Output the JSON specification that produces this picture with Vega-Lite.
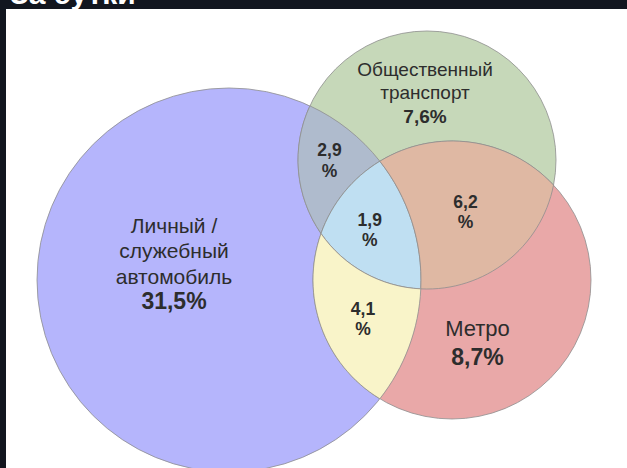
{
  "$schema": "https://vega.github.io/schema/vega-lite/v6.json",
  "width": 621,
  "height": 459,
  "autosize": {"type": "none"},
  "padding": {"left": 6, "top": 9, "right": 0, "bottom": 0},
  "background": "#12161f",
  "config": {
    "view": {"fill": "#ffffff", "stroke": null},
    "locale": {"number": {"decimal": ",", "thousands": " ", "grouping": [3], "currency": ["", "%"]}}
  },
  "datasets": {
    "sets": [
      {"key": "car", "set": "Личный / служебный автомобиль", "name": "Личный /\nслужебный\nавтомобиль", "pct": 31.5, "cx": 48.584, "cy": 59.041, "r": 41.83, "lx": 36.6, "ly": 48.8, "vy": 65.36},
      {"key": "pt", "set": "Общественный транспорт", "name": "Общественный\nтранспорт", "pct": 7.6, "cx": 91.721, "cy": 32.898, "r": 28.105, "lx": 91.29, "ly": 14.6, "vy": 24.84},
      {"key": "metro", "set": "Метро", "name": "Метро", "pct": 8.7, "cx": 97.168, "cy": 59.041, "r": 30.283, "lx": 102.72, "ly": 71.24, "vy": 77.56}
    ],
    "regions": [
      {"region": "car+pt", "pct": 2.9, "lx": 70.479, "ly": 33.224},
      {"region": "car+pt+metro", "pct": 1.9, "lx": 79.237, "ly": 48.366},
      {"region": "pt+metro", "pct": 6.2, "lx": 100.109, "ly": 44.444},
      {"region": "car+metro", "pct": 4.1, "lx": 77.778, "ly": 67.756}
    ],
    "heading": [
      {"caption": "За сутки"}
    ]
  },
  "resolve": {"scale": {"fill": "independent", "shape": "independent"}},
  "layer": [
    {
      "data": {"name": "sets"},
      "mark": {"type": "point", "filled": true, "shape": "circle", "opacity": 1, "stroke": "#8f8f8f", "strokeWidth": 1, "strokeOpacity": 0.8},
      "encoding": {
        "x": {"field": "cx", "type": "quantitative", "scale": {"domain": [0, 135.2941], "nice": false, "zero": false}, "axis": null},
        "y": {"field": "cy", "type": "quantitative", "scale": {"domain": [0, 100], "nice": false, "zero": false, "reverse": true}, "axis": null},
        "size": {"field": "r", "type": "quantitative", "scale": {"type": "pow", "exponent": 2, "domain": [0, 100], "range": [0, 842724]}, "legend": null},
        "fill": {"field": "key", "type": "nominal", "scale": {"domain": ["car", "pt", "metro"], "range": ["#b5b5fc", "#c6d8b9", "#e9a8a8"]}, "legend": null}
      }
    },
    {
      "data": {"name": "regions"},
      "mark": {"type": "point", "filled": true, "opacity": 1, "size": 84.2724, "stroke": "#8f8f8f", "strokeWidth": 1, "strokeOpacity": 0.8},
      "encoding": {
        "x": {"field": "lx", "type": "quantitative", "scale": {"domain": [0, 135.2941], "nice": false, "zero": false}, "axis": null},
        "y": {"field": "ly", "type": "quantitative", "scale": {"domain": [0, 100], "nice": false, "zero": false, "reverse": true}, "axis": null},
        "shape": {"field": "region", "type": "nominal", "scale": {"domain": ["car+pt", "car+pt+metro", "pt+metro", "car+metro"], "range": [
          "M-4.272,-12.12A41.83,41.83,0,0,1,10.965,-0.065A30.283,30.283,0,0,0,-1.852,15.686A28.105,28.105,0,0,1,-4.272,-12.12Z",
          "M2.207,-15.207A30.283,30.283,0,0,0,-10.61,0.545A28.105,28.105,0,0,0,11.131,12.608A41.83,41.83,0,0,0,2.207,-15.207Z",
          "M-18.664,-11.285A30.283,30.283,0,0,1,19.181,-6.085A28.105,28.105,0,0,1,-9.741,16.529A41.83,41.83,0,0,0,-18.664,-11.285Z",
          "M-9.15,-18.845A28.105,28.105,0,0,0,12.59,-6.782A41.83,41.83,0,0,1,3.667,17.168A30.283,30.283,0,0,1,-9.15,-18.845Z"
        ]}, "legend": null},
        "fill": {"field": "region", "type": "nominal", "scale": {"domain": ["car+pt", "car+pt+metro", "pt+metro", "car+metro"], "range": ["#afbbcd", "#bfdff2", "#dfb8a3", "#f9f4c9"]}, "legend": null}
      }
    },
    {
      "data": {"name": "heading"},
      "mark": {"type": "text", "font": "Liberation Sans", "fontSize": 30, "fontWeight": "bold", "align": "left", "baseline": "alphabetic", "color": "#ffffff"},
      "encoding": {
        "x": {"datum": 0.871, "type": "quantitative", "scale": {"domain": [0, 135.2941], "nice": false, "zero": false}, "axis": null},
        "y": {"datum": -1.089, "type": "quantitative", "scale": {"domain": [0, 100], "nice": false, "zero": false, "reverse": true}, "axis": null},
        "text": {"field": "caption", "type": "nominal"}
      }
    },
    {
      "data": {"name": "sets"},
      "transform": [{"filter": "datum.key === 'car'"}],
      "mark": {"type": "text", "font": "Liberation Sans", "fontSize": 21, "lineHeight": 25.3, "lineBreak": "\n", "align": "center", "baseline": "alphabetic", "color": "#2d2d2d"},
      "encoding": {
        "x": {"field": "lx", "type": "quantitative", "scale": {"domain": [0, 135.2941], "nice": false, "zero": false}, "axis": null},
        "y": {"field": "ly", "type": "quantitative", "scale": {"domain": [0, 100], "nice": false, "zero": false, "reverse": true}, "axis": null},
        "text": {"field": "name", "type": "nominal"}
      }
    },
    {
      "data": {"name": "sets"},
      "transform": [{"filter": "datum.key === 'pt'"}],
      "mark": {"type": "text", "font": "Liberation Sans", "fontSize": 19, "lineHeight": 23, "lineBreak": "\n", "align": "center", "baseline": "alphabetic", "color": "#2d2d2d"},
      "encoding": {
        "x": {"field": "lx", "type": "quantitative", "scale": {"domain": [0, 135.2941], "nice": false, "zero": false}, "axis": null},
        "y": {"field": "ly", "type": "quantitative", "scale": {"domain": [0, 100], "nice": false, "zero": false, "reverse": true}, "axis": null},
        "text": {"field": "name", "type": "nominal"}
      }
    },
    {
      "data": {"name": "sets"},
      "transform": [{"filter": "datum.key === 'metro'"}],
      "mark": {"type": "text", "font": "Liberation Sans", "fontSize": 22, "align": "center", "baseline": "alphabetic", "color": "#2d2d2d"},
      "encoding": {
        "x": {"field": "lx", "type": "quantitative", "scale": {"domain": [0, 135.2941], "nice": false, "zero": false}, "axis": null},
        "y": {"field": "ly", "type": "quantitative", "scale": {"domain": [0, 100], "nice": false, "zero": false, "reverse": true}, "axis": null},
        "text": {"field": "name", "type": "nominal"}
      }
    },
    {
      "data": {"name": "sets"},
      "transform": [{"filter": "datum.key !== 'pt'"}],
      "mark": {"type": "text", "font": "Liberation Sans", "fontSize": 23, "fontWeight": "bold", "align": "center", "baseline": "alphabetic", "color": "#2d2d2d"},
      "encoding": {
        "x": {"field": "lx", "type": "quantitative", "scale": {"domain": [0, 135.2941], "nice": false, "zero": false}, "axis": null},
        "y": {"field": "vy", "type": "quantitative", "scale": {"domain": [0, 100], "nice": false, "zero": false, "reverse": true}, "axis": null},
        "text": {"field": "pct", "type": "quantitative", "format": "$.1f"}
      }
    },
    {
      "data": {"name": "sets"},
      "transform": [{"filter": "datum.key === 'pt'"}],
      "mark": {"type": "text", "font": "Liberation Sans", "fontSize": 19, "fontWeight": "bold", "align": "center", "baseline": "alphabetic", "color": "#2d2d2d"},
      "encoding": {
        "x": {"field": "lx", "type": "quantitative", "scale": {"domain": [0, 135.2941], "nice": false, "zero": false}, "axis": null},
        "y": {"field": "vy", "type": "quantitative", "scale": {"domain": [0, 100], "nice": false, "zero": false, "reverse": true}, "axis": null},
        "text": {"field": "pct", "type": "quantitative", "format": "$.1f"}
      }
    },
    {
      "data": {"name": "regions"},
      "mark": {"type": "text", "font": "Liberation Sans", "fontSize": 17.5, "fontWeight": "bold", "align": "center", "baseline": "middle", "dy": -10.25, "color": "#2d2d2d"},
      "encoding": {
        "x": {"field": "lx", "type": "quantitative", "scale": {"domain": [0, 135.2941], "nice": false, "zero": false}, "axis": null},
        "y": {"field": "ly", "type": "quantitative", "scale": {"domain": [0, 100], "nice": false, "zero": false, "reverse": true}, "axis": null},
        "text": {"field": "pct", "type": "quantitative", "format": ".1f"}
      }
    },
    {
      "data": {"name": "regions"},
      "mark": {"type": "text", "font": "Liberation Sans", "fontSize": 17.5, "fontWeight": "bold", "align": "center", "baseline": "middle", "dy": 10.25, "color": "#2d2d2d", "text": "%"},
      "encoding": {
        "x": {"field": "lx", "type": "quantitative", "scale": {"domain": [0, 135.2941], "nice": false, "zero": false}, "axis": null},
        "y": {"field": "ly", "type": "quantitative", "scale": {"domain": [0, 100], "nice": false, "zero": false, "reverse": true}, "axis": null}
      }
    }
  ]
}
